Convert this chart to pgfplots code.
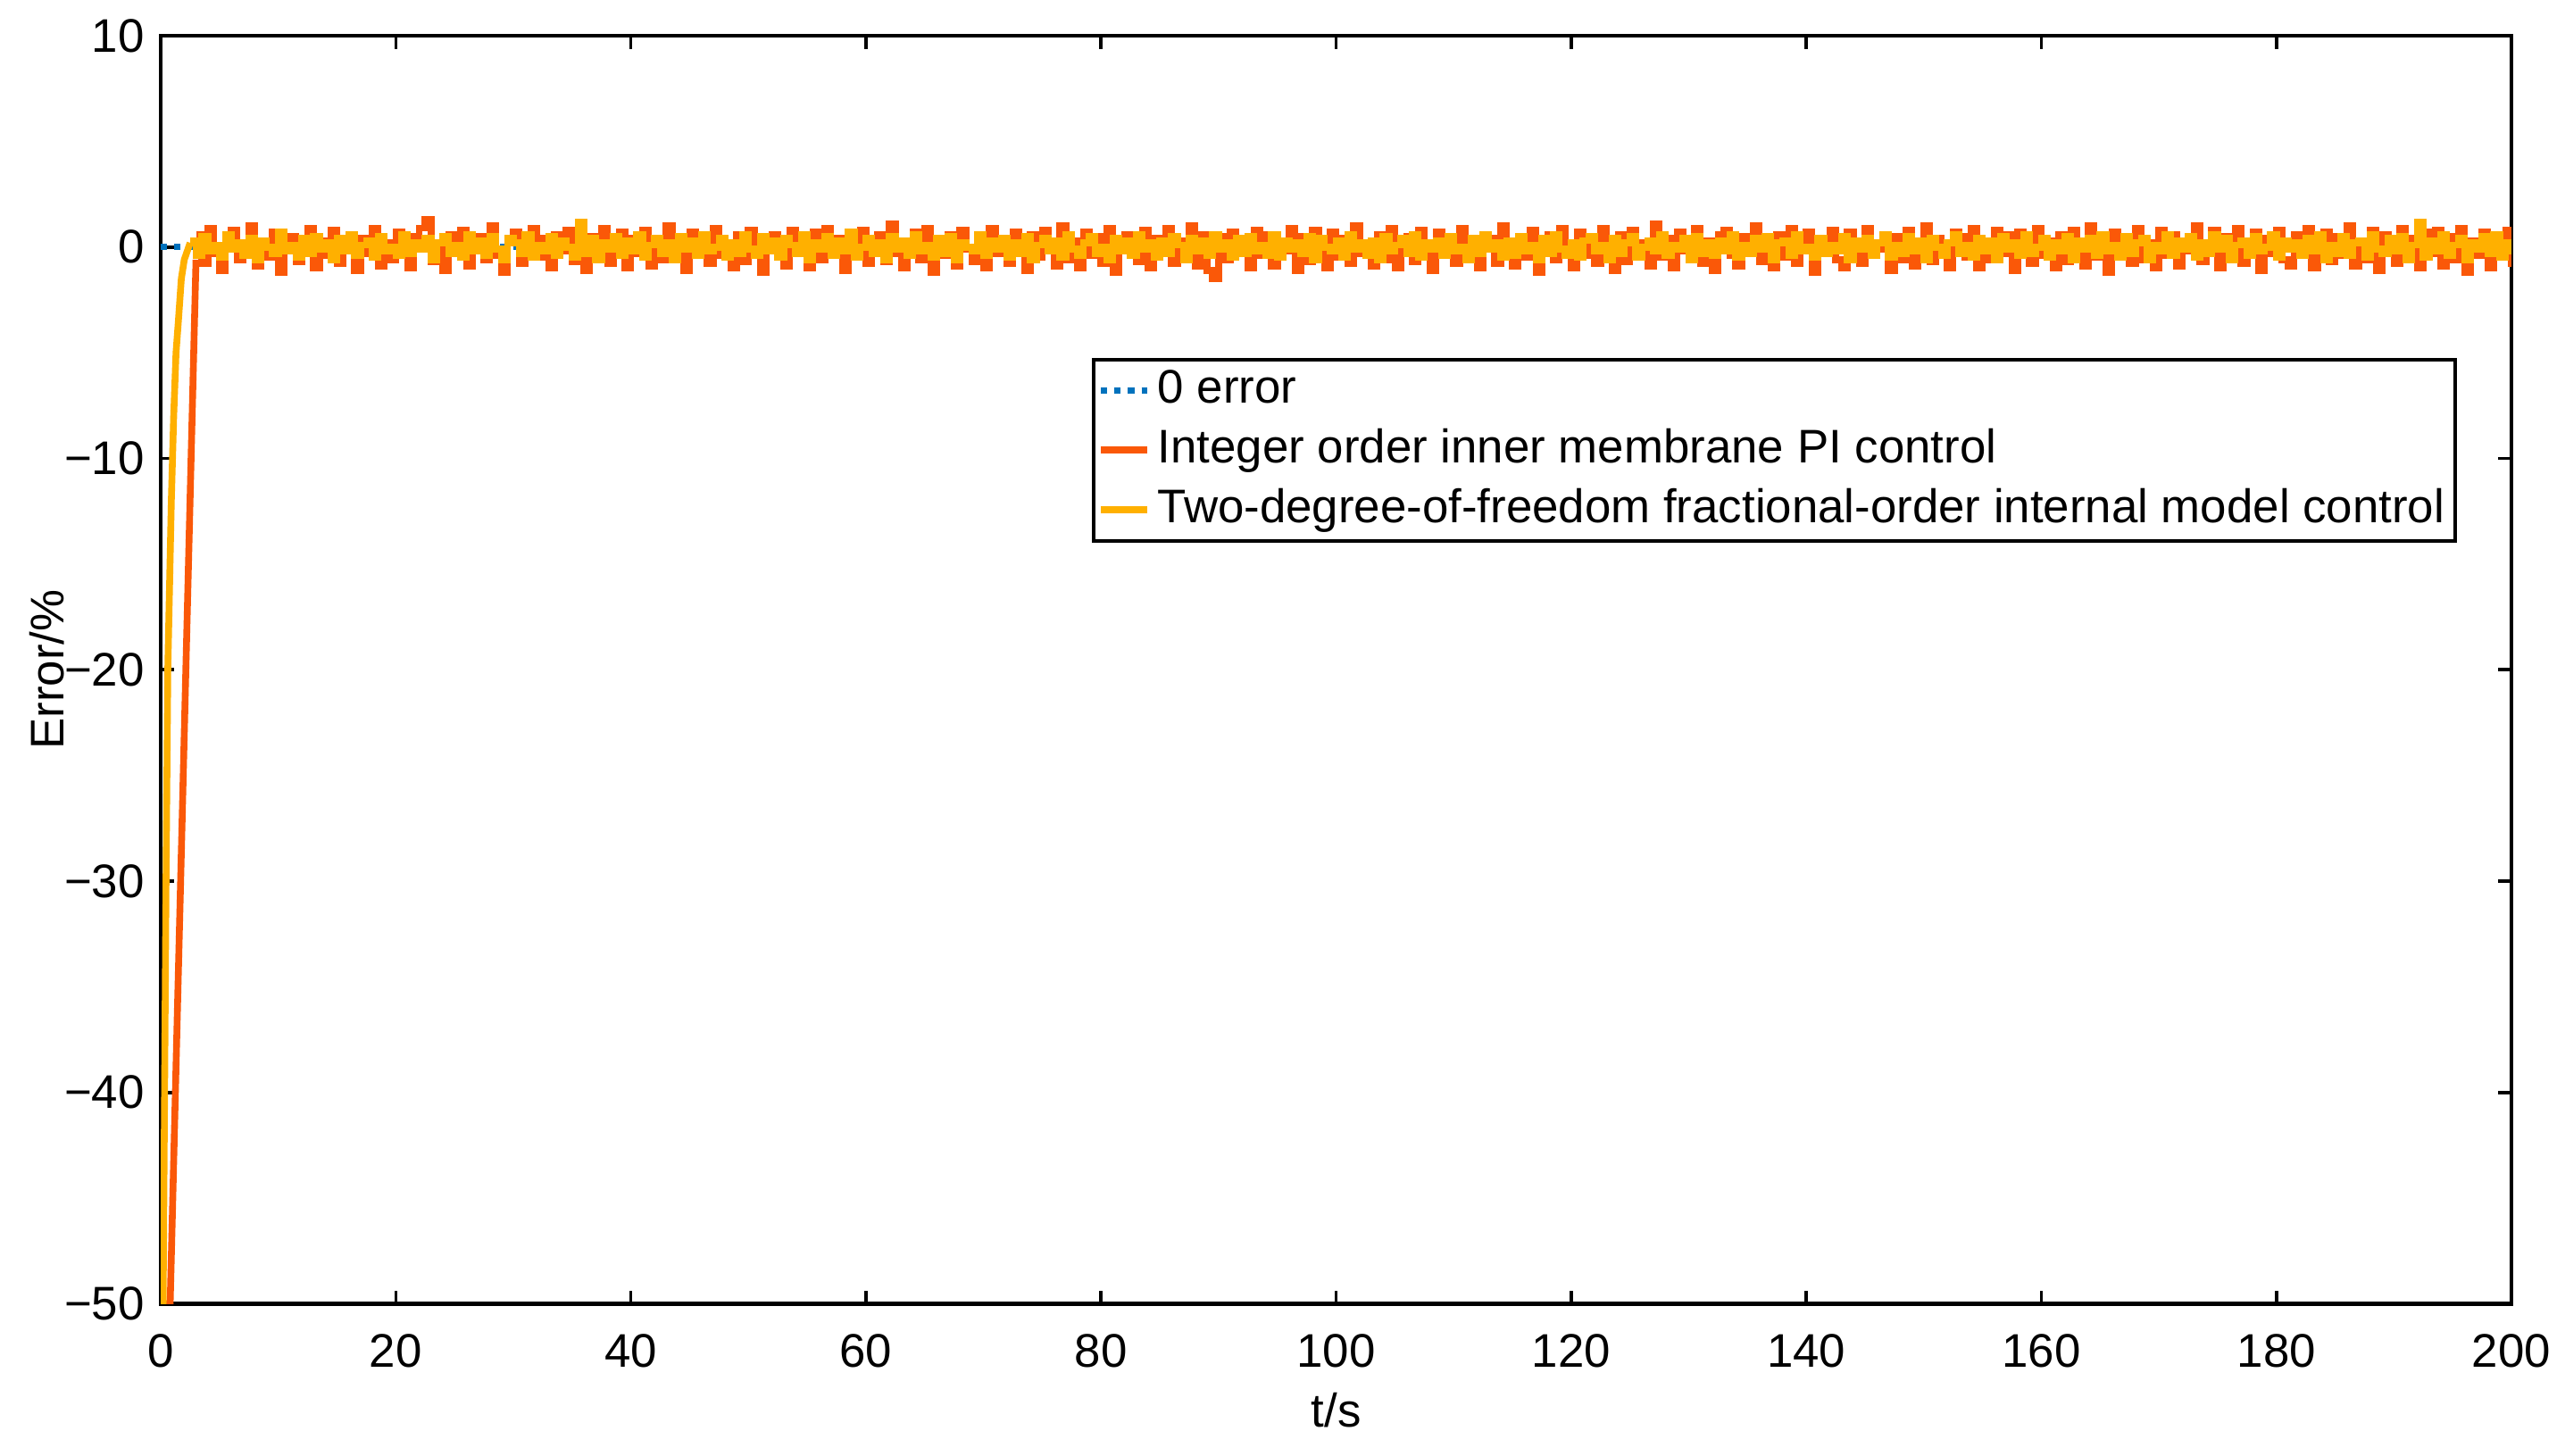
\documentclass[border=0pt]{standalone}
\usepackage{pgfplots}
\pgfplotsset{compat=1.18}
\usepackage{pgfplotstable}
\usepackage{fontspec}
\setmainfont{Liberation Sans}
\definecolor{mblue}{RGB}{0,114,189}
\definecolor{morange}{RGB}{250,88,8}
\definecolor{myellow}{RGB}{255,176,0}

\pgfplotstableread[row sep=\\, header=false]{
0.6\\ -0.8\\ 0.9\\ -0.3\\ -1.1\\ 0.4\\ 0.8\\ -0.6\\ -0.2\\ 1.0\\ -0.9\\ 0.3\\ -0.5\\ 0.7\\ -1.2\\ 0.2\\ 0.5\\ -0.7\\ -0.1\\ 0.9\\
-1.0\\ 0.3\\ -0.4\\ 0.8\\ -0.8\\ 0.1\\ 0.6\\ -1.1\\ 0.4\\ -0.3\\ 0.9\\ -0.9\\ 0.2\\ -0.6\\ 0.7\\ -0.2\\ -1.0\\ 0.5\\ 0.9\\ 1.3\\
-0.7\\ 0.2\\ -1.1\\ 0.6\\ -0.3\\ 0.8\\ -0.9\\ 0.1\\ 0.5\\ -0.6\\ 1.0\\ -0.4\\ -1.2\\ 0.3\\ 0.7\\ -0.8\\ 0.0\\ 0.9\\ -0.5\\ 0.4\\
-1.0\\ 0.6\\ -0.2\\ 0.8\\ -0.7\\ 0.3\\ -1.1\\ 0.5\\ -0.4\\ 0.9\\ -0.8\\ 0.1\\ 0.7\\ -1.0\\ 0.4\\ -0.3\\ 0.8\\ -0.9\\ 0.2\\ -0.6\\
1.0\\ -0.5\\ 0.3\\ -1.1\\ 0.7\\ -0.2\\ 0.5\\ -0.8\\ 0.9\\ -0.4\\ 0.1\\ -1.0\\ 0.6\\ -0.7\\ 0.8\\ -0.1\\ -1.2\\ 0.4\\ 0.6\\ -0.5\\
-0.9\\ 0.8\\ -0.3\\ 0.2\\ -1.0\\ 0.7\\ -0.6\\ 0.9\\ -0.2\\ 0.4\\ -1.1\\ 0.5\\ -0.4\\ 0.8\\ -0.8\\ 0.1\\ 0.6\\ -0.7\\ 1.1\\ -0.3\\
-1.0\\ 0.3\\ 0.7\\ -0.6\\ 0.9\\ -1.2\\ 0.2\\ -0.4\\ 0.6\\ -0.9\\ 0.8\\ -0.1\\ -0.7\\ 0.5\\ -1.0\\ 0.9\\ -0.3\\ 0.4\\ -0.8\\ 0.7\\
0.1\\ -1.1\\ 0.6\\ -0.5\\ 0.8\\ -0.2\\ -0.9\\ 1.0\\ -0.6\\ 0.3\\ -1.0\\ 0.7\\ -0.4\\ 0.5\\ -0.8\\ 0.9\\ -1.2\\ 0.2\\ 0.6\\ -0.3\\
-0.7\\ 0.8\\ -1.0\\ 0.4\\ -0.2\\ 0.9\\ -0.8\\ 0.3\\ -0.5\\ 1.0\\ -0.9\\ 0.6\\ -1.1\\ -1.5\\ 0.5\\ -0.6\\ 0.7\\ -0.3\\ 0.2\\ -1.0\\
0.8\\ -0.4\\ 0.6\\ -0.9\\ 0.3\\ -0.2\\ 0.9\\ -1.1\\ 0.5\\ -0.7\\ 0.8\\ -0.1\\ -1.0\\ 0.7\\ -0.5\\ 0.4\\ -0.8\\ 1.0\\ -0.3\\ 0.2\\
-0.9\\ 0.6\\ -0.6\\ 0.9\\ -1.0\\ 0.2\\ 0.5\\ -0.7\\ 0.8\\ -0.4\\ -1.1\\ 0.7\\ -0.2\\ 0.3\\ -0.8\\ 0.9\\ -0.6\\ 0.1\\ -1.0\\ 0.6\\
0.4\\ -0.8\\ 1.0\\ -0.3\\ -0.9\\ 0.5\\ -0.5\\ 0.8\\ -1.2\\ 0.3\\ 0.6\\ -0.6\\ 0.9\\ -0.2\\ -1.0\\ 0.7\\ -0.4\\ 0.5\\ -0.8\\ 0.9\\
-0.1\\ -1.1\\ 0.6\\ -0.7\\ 0.8\\ -0.3\\ 0.2\\ -0.9\\ 1.1\\ -0.5\\ 0.4\\ -1.0\\ 0.7\\ -0.2\\ -0.6\\ 0.9\\ -0.8\\ 0.3\\ -1.1\\ 0.6\\
0.8\\ -0.4\\ -0.9\\ 0.5\\ -0.2\\ 1.0\\ -0.7\\ 0.3\\ -1.0\\ 0.6\\ -0.5\\ 0.9\\ -0.8\\ 0.2\\ 0.7\\ -1.2\\ 0.4\\ -0.3\\ 0.8\\ -0.6\\
-1.0\\ 0.7\\ 0.3\\ -0.8\\ 0.9\\ -0.4\\ -0.1\\ 0.6\\ -1.1\\ 0.5\\ -0.6\\ 0.8\\ -0.9\\ 0.2\\ 1.0\\ -0.7\\ 0.4\\ -0.3\\ -1.0\\ 0.7\\
0.5\\ -0.5\\ 0.9\\ -1.0\\ 0.2\\ -0.6\\ 0.8\\ -0.3\\ 0.6\\ -1.1\\ 0.7\\ -0.2\\ -0.8\\ 0.9\\ -0.4\\ 0.3\\ -1.0\\ 0.6\\ -0.7\\ 0.8\\
-0.3\\ -0.9\\ 1.0\\ -0.5\\ 0.4\\ -1.2\\ 0.7\\ -0.1\\ 0.5\\ -0.8\\ 0.9\\ -0.6\\ 0.2\\ -1.0\\ 0.8\\ -0.4\\ 0.6\\ -0.9\\ 0.3\\ -0.2\\
1.0\\ -0.7\\ -0.3\\ 0.8\\ -1.0\\ 0.5\\ -0.5\\ 0.9\\ -0.8\\ 0.1\\ 0.7\\ -1.1\\ 0.4\\ -0.3\\ 0.8\\ -0.6\\ -0.9\\ 0.6\\ -0.2\\ 0.9\\
-1.0\\ 0.3\\ 0.7\\ -0.7\\ 0.5\\ -0.4\\ 1.0\\ -0.9\\ 0.2\\ -0.6\\ 0.8\\ -1.1\\ 0.6\\ -0.2\\ -0.8\\ 0.9\\ -0.5\\ 0.4\\ -1.0\\ 0.7\\
-0.3\\ 0.8\\ -0.9\\ 0.5\\ -0.6\\ 0.9\\ -1.2\\ 0.3\\ -0.4\\ 0.7\\ -1.0\\ 0.6\\ -0.2\\ 0.8\\ -0.8\\ 0.4\\ -1.1\\ 0.5\\ -0.7\\ 0.6\\
}\orangenoise

\pgfplotstableread[row sep=\\, header=false]{
0.3\\ -0.4\\ 0.5\\ -0.2\\ 0.1\\ -0.5\\ 0.6\\ -0.1\\ 0.2\\ -0.4\\ 0.4\\ -0.6\\ 0.3\\ 0.0\\ -0.3\\ 0.7\\ -0.2\\ 0.1\\ -0.5\\ 0.4\\
-0.3\\ 0.5\\ -0.1\\ 0.2\\ -0.6\\ 0.4\\ -0.2\\ 0.6\\ -0.4\\ 0.1\\ 0.3\\ -0.5\\ 0.5\\ -0.2\\ 0.0\\ -0.4\\ 0.6\\ -0.3\\ 0.2\\ -0.1\\
0.4\\ -0.6\\ 0.2\\ 0.5\\ -0.3\\ 0.1\\ -0.5\\ 0.6\\ -0.2\\ 0.3\\ -0.4\\ 0.5\\ -0.1\\ -0.6\\ 0.4\\ 0.2\\ -0.3\\ 0.6\\ -0.5\\ 0.1\\
-0.2\\ 0.5\\ -0.4\\ 0.3\\ 0.0\\ -0.5\\ 1.2\\ -0.3\\ 0.4\\ -0.6\\ 0.2\\ -0.1\\ 0.5\\ -0.4\\ 0.3\\ -0.2\\ 0.6\\ -0.5\\ 0.1\\ 0.4\\
-0.3\\ 0.2\\ -0.6\\ 0.5\\ -0.1\\ 0.3\\ -0.4\\ 0.6\\ -0.2\\ 0.0\\ 0.4\\ -0.5\\ 0.2\\ -0.3\\ 0.6\\ -0.1\\ -0.4\\ 0.5\\ -0.2\\ 0.3\\
-0.5\\ 0.4\\ 0.1\\ -0.3\\ 0.6\\ -0.6\\ 0.2\\ -0.1\\ 0.5\\ -0.4\\ 0.3\\ -0.2\\ 0.7\\ -0.5\\ 0.0\\ 0.4\\ -0.3\\ 0.2\\ -0.6\\ 0.5\\
-0.1\\ 0.3\\ -0.4\\ 0.6\\ -0.2\\ 0.1\\ -0.5\\ 0.4\\ -0.3\\ 0.5\\ -0.6\\ 0.2\\ 0.0\\ -0.2\\ 0.6\\ -0.4\\ 0.3\\ -0.1\\ 0.4\\ -0.5\\
0.2\\ -0.3\\ 0.5\\ -0.6\\ 0.1\\ 0.4\\ -0.2\\ 0.3\\ -0.5\\ 0.6\\ -0.1\\ -0.4\\ 0.2\\ 0.5\\ -0.3\\ 0.0\\ -0.6\\ 0.4\\ -0.2\\ 0.3\\
-0.4\\ 0.6\\ -0.1\\ 0.2\\ -0.5\\ 0.3\\ -0.3\\ 0.5\\ 0.1\\ -0.6\\ 0.4\\ -0.2\\ 0.3\\ -0.4\\ 0.6\\ -0.1\\ 0.2\\ -0.5\\ 0.4\\ -0.3\\
0.5\\ -0.2\\ 0.1\\ -0.4\\ 0.6\\ -0.5\\ 0.3\\ -0.1\\ 0.2\\ -0.3\\ 0.5\\ -0.6\\ 0.4\\ 0.0\\ -0.2\\ 0.3\\ -0.5\\ 0.6\\ -0.1\\ 0.2\\
-0.4\\ 0.3\\ -0.6\\ 0.5\\ -0.2\\ 0.1\\ 0.4\\ -0.3\\ 0.6\\ -0.5\\ 0.2\\ -0.1\\ 0.3\\ -0.4\\ 0.5\\ -0.2\\ 0.0\\ -0.6\\ 0.4\\ -0.3\\
0.6\\ -0.1\\ 0.2\\ -0.5\\ 0.3\\ -0.4\\ 0.5\\ -0.2\\ 0.1\\ -0.6\\ 0.4\\ -0.3\\ 0.6\\ -0.1\\ -0.4\\ 0.2\\ -0.5\\ 0.3\\ 0.5\\ -0.2\\
0.1\\ -0.6\\ 0.4\\ -0.3\\ 0.2\\ 0.5\\ -0.5\\ 0.0\\ 0.3\\ -0.2\\ 0.6\\ -0.4\\ 0.1\\ -0.1\\ 0.4\\ -0.6\\ 0.5\\ -0.3\\ 0.2\\ -0.4\\
0.3\\ -0.2\\ 0.6\\ -0.5\\ 0.1\\ -0.3\\ 0.4\\ -0.1\\ 0.5\\ -0.6\\ 0.2\\ 0.3\\ -0.4\\ 0.6\\ -0.2\\ 0.0\\ -0.5\\ 0.4\\ -0.3\\ 0.1\\
-0.2\\ 0.5\\ -0.6\\ 0.3\\ -0.1\\ 0.4\\ -0.4\\ 0.2\\ 0.6\\ -0.5\\ 0.1\\ -0.3\\ 0.5\\ -0.2\\ 0.3\\ -0.6\\ 0.4\\ 0.0\\ -0.4\\ 0.2\\
0.6\\ -0.3\\ 0.1\\ -0.5\\ 0.4\\ -0.2\\ 0.3\\ -0.6\\ 0.5\\ -0.1\\ 0.2\\ -0.4\\ 0.6\\ -0.3\\ 0.0\\ 0.4\\ -0.5\\ 0.2\\ -0.2\\ 0.5\\
-0.6\\ 0.3\\ -0.1\\ 0.4\\ -0.4\\ 0.6\\ -0.2\\ 0.1\\ -0.5\\ 0.5\\ -0.3\\ 0.2\\ 0.4\\ -0.6\\ 0.1\\ -0.2\\ 0.6\\ -0.4\\ 0.3\\ -0.1\\
0.5\\ -0.5\\ 0.2\\ -0.3\\ 0.6\\ -0.1\\ 0.4\\ -0.6\\ 0.1\\ 0.3\\ -0.4\\ 0.5\\ -0.2\\ 0.0\\ 0.6\\ -0.5\\ 0.3\\ -0.1\\ 0.2\\ -0.4\\
0.4\\ -0.2\\ 0.6\\ -0.6\\ 0.1\\ -0.3\\ 0.5\\ -0.4\\ 0.2\\ 0.3\\ -0.5\\ 0.6\\ -0.1\\ -0.3\\ 0.4\\ -0.2\\ 0.5\\ -0.6\\ 0.1\\ 1.2\\
-0.5\\ 0.3\\ -0.2\\ 0.6\\ -0.4\\ 0.1\\ 0.4\\ -0.6\\ 0.2\\ -0.1\\ 0.5\\ -0.3\\ 0.6\\ -0.5\\ 0.2\\ -0.2\\ 0.4\\ -0.4\\ 0.3\\ 0.1\\
}\yellownoise

\begin{document}
\fontsize{13.2}{15.8}\selectfont
\begin{tikzpicture}
\begin{axis}[name=ax, scale only axis, width=658pt, height=355pt,
  xmin=0, xmax=200, ymin=-50, ymax=10,
  xtick={0,20,...,200}, ytick={-50,-40,...,10},
  yticklabels={−50,−40,−30,−20,−10,0,10},
  /pgf/number format/assume math mode=true,
  tick align=inside, major tick length=3.7pt,
  axis line style={line width=1.1pt},
  tick style={line width=0.9pt, black},
  tick label style={font=\fontsize{13.2}{15.8}\selectfont},
  xticklabel style={yshift=-4pt},
  label style={font=\fontsize{13.2}{15.8}\selectfont},
  xlabel={t/s}, ylabel={Error/\%},
  xlabel style={yshift=2pt},
  ylabel style={yshift=-9pt},
  legend style={at={(0.977,0.746)}, anchor=north east, draw=black,
    line width=1.1pt, fill=white,
    font=\fontsize{13.2}{15.8}\selectfont, row sep=1.2pt,
    inner xsep=1pt, inner ysep=1pt},
  legend cell align=left,
  legend image code/.code={\draw[#1] (0pt,0pt) -- (13pt,0pt);},
  clip=true,
]
\addplot[mblue, dotted, line width=1.8pt] coordinates {(0,0) (200,0)};
\addlegendentry{0 error}
\addplot[morange, line width=1.9pt, forget plot] coordinates {(0,-50) (0.8,-50) (3.0,-0.6)};
\addplot[morange, line width=1.9pt, const plot] table[x expr=3+\coordindex*0.5, y index=0] {\orangenoise};
\addlegendentry{Integer order inner membrane PI control}
\addplot[myellow, line width=1.9pt, forget plot] coordinates {(0,-50) (0.2,-50) (0.45,-30) (0.6,-20) (0.9,-12) (1.1,-8) (1.3,-5) (1.5,-3.5) (1.75,-1.5) (2.0,-0.6) (2.5,0.2)};
\addplot[myellow, line width=1.9pt, const plot] table[x expr=2.5+\coordindex*0.5, y index=0] {\yellownoise};
\addlegendentry{Two-degree-of-freedom fractional-order internal model control}
\end{axis}
\pgfresetboundingbox
\path[use as bounding box] ([shift={(-45pt,-42.5pt)}]ax.south west) rectangle ([shift={(15pt,10pt)}]ax.north east);
\end{tikzpicture}
\end{document}
